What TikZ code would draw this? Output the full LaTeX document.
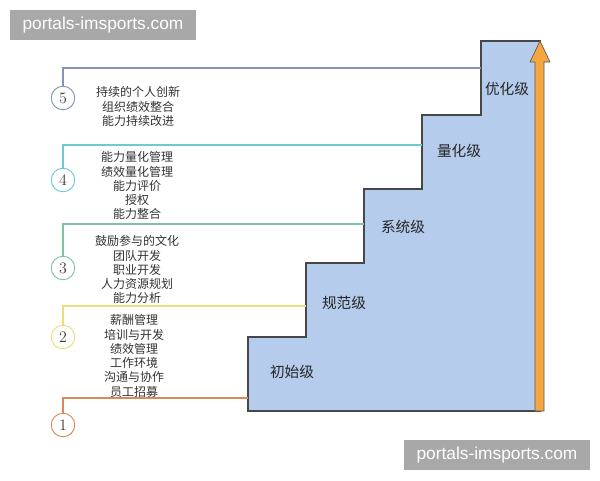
\documentclass[tikz,border=0pt]{standalone}
\usepackage{fontspec}
\newfontfamily\cjk{Noto Sans CJK SC}
\newfontfamily\wmfont{Liberation Sans}
\begin{document}
\begin{tikzpicture}[x=0.75pt,y=-0.75pt,
  circ/.style={circle,draw=#1,line width=0.7pt,minimum size=23.5*0.75pt,inner sep=0pt,font=\large,text=black!75},
  lead/.style={draw=#1,line width=1.2pt},
  lst/.style={align=center,font=\cjk\fontsize{9}{10.7}\selectfont,text=black!80},
  lvl/.style={font=\cjk\fontsize{11}{13}\selectfont,text=black!85},
  wm/.style={fill=black!34,text=white,font=\wmfont\fontsize{13}{15}\selectfont,inner sep=0pt,minimum height=30*0.75pt}
]
\useasboundingbox (0,0) rectangle (600,480);
\fill[white] (0,0) rectangle (600,480);
\definecolor{c5}{HTML}{8593B8}
\definecolor{c4}{HTML}{6CCAD6}
\definecolor{c3}{HTML}{7EC4A4}
\definecolor{c2}{HTML}{EEDC7A}
\definecolor{c1}{HTML}{D98A58}
\definecolor{stairfill}{HTML}{B6CCEC}
\definecolor{arrowfill}{HTML}{F4A640}
% staircase
\draw[fill=stairfill,draw=black!72,line width=0.8pt]
  (248,411) -- (248,337) -- (306,337) -- (306,263) -- (364,263) -- (364,189)
  -- (422,189) -- (422,115) -- (481,115) -- (481,41) -- (540,41) -- (540,411) -- cycle;
\coordinate (s1) at (248,398);
\coordinate (s2) at (306,306);
\coordinate (s3) at (364,224);
\coordinate (s4) at (422,145);
\coordinate (s5) at (481,68);
% arrow
\draw[fill=arrowfill,draw=black!65,line width=0.5pt]
  (535,411) -- (535,62) -- (530,62) -- (540,41) -- (550,62) -- (544,62) -- (544,411) -- cycle;
% level labels
\node[lvl] (l1) at (292,372) {初始级};
\node[lvl] (l2) at (344,303) {规范级};
\node[lvl] (l3) at (403,227) {系统级};
\node[lvl] (l4) at (459,151) {量化级};
\node[lvl] (l5) at (507,89) {优化级};
% circles
\node[circ=c5] (c5n) at (63,98) {5};
\node[circ=c4] (c4n) at (63,180) {4};
\node[circ=c3] (c3n) at (63,268) {3};
\node[circ=c2] (c2n) at (63,337) {2};
\node[circ=c1] (c1n) at (63,425) {1};
% leaders
\draw[lead=c5] (c5n.north) |- (s5);
\draw[lead=c4] (c4n.north) |- (s4);
\draw[lead=c3] (c3n.north) |- (s3);
\draw[lead=c2] (c2n.north) |- (s2);
\draw[lead=c1] (c1n.north) |- (s1);
% lists
\node[lst,anchor=north] (t5) at (138,82) {持续的个人创新\\组织绩效整合\\能力持续改进};
\node[lst,anchor=north] (t4) at (137,147) {能力量化管理\\绩效量化管理\\能力评价\\授权\\能力整合};
\node[lst,anchor=north] (t3) at (137,231) {鼓励参与的文化\\团队开发\\职业开发\\人力资源规划\\能力分析};
\node[lst,anchor=north] (t2) at (134,310) {薪酬管理\\培训与开发\\绩效管理\\工作环境\\沟通与协作\\员工招募};
% watermarks
\node[wm,minimum width=186*0.75pt] (w1) at (103,25) {portals-imsports.com};
\node[wm,minimum width=186*0.75pt] (w2) at (497,455) {portals-imsports.com};
\end{tikzpicture}
\end{document}
